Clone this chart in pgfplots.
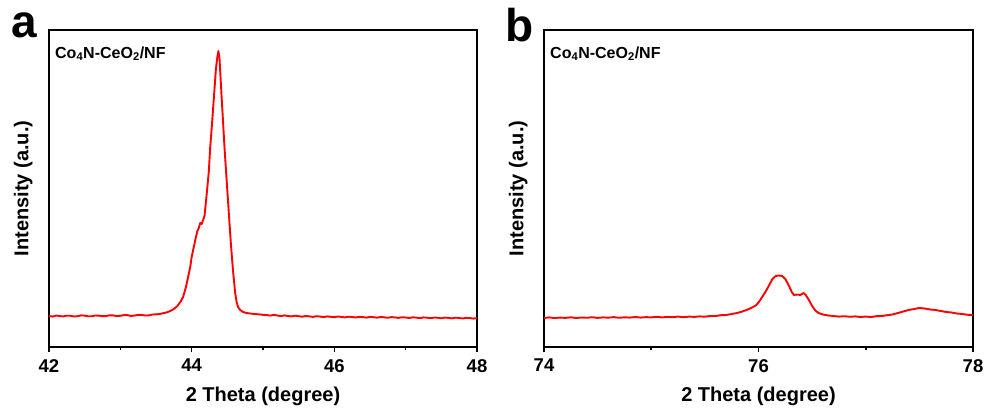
\documentclass[border=0pt]{standalone}
\usepackage{pgfplots}
\pgfplotsset{compat=1.18}
\usepackage{fontspec}
\setmainfont{Liberation Sans}
\begin{document}
\begin{tikzpicture}[x=1pt,y=1pt]
\useasboundingbox (-49,-65) rectangle (936,347);
\pgfplotsset{
  myax/.style={
    scale only axis, width=428pt, height=317pt,
    axis line style={line width=2pt},
    ymin=0, ymax=317, ytick=\empty,
    tick align=outside, tick pos=bottom,
    major tick length=5pt, minor tick length=3.5pt,
    every tick/.style={line width=1.6pt, black},
    minor x tick num=1,
    /pgf/number format/assume math mode=true,
    ticklabel style={font=\fontsize{18.5}{20}\selectfont\bfseries},
    xticklabel style={anchor=north, inner sep=0pt, yshift=-7pt},
    xlabel={2 Theta (degree)}, ylabel={Intensity (a.u.)},
    label style={font=\fontsize{20}{22}\selectfont\bfseries},
    xlabel style={at={(axis description cs:0.5,0)}, anchor=north, inner sep=0pt, yshift=-40pt},
    ylabel style={at={(axis description cs:-0.038,0.5)}, anchor=south, inner sep=0pt, rotate=0},
    clip=true,
  }
}
\begin{axis}[myax, at={(0,0)}, anchor=south west, xmin=42, xmax=48, xtick={42,44,46,48}]
\addplot[color=red, line width=1.9pt, line join=round] coordinates {
(42.00,31.0)(42.05,30.4)(42.10,31.5)(42.15,30.9)(42.20,30.6)(42.25,31.3)(42.30,31.2)(42.35,30.5)(42.40,30.8)(42.45,31.6)
(42.50,31.4)(42.55,30.7)(42.60,30.7)(42.65,31.5)(42.70,31.3)(42.75,30.8)(42.80,31.0)(42.85,31.7)(42.90,31.6)(42.95,30.9)
(43.00,31.2)(43.05,31.9)(43.10,31.8)(43.15,31.1)(43.20,31.4)(43.25,32.2)(43.30,32.0)(43.35,31.5)(43.40,31.6)(43.45,32.5)
(43.50,32.6)(43.55,33.0)(43.60,33.8)(43.65,34.6)(43.70,36.0)(43.75,38.0)(43.80,41.0)(43.85,46.0)(43.88,50.0)(43.92,60.0)
(43.95,70.0)(43.98,80.0)(44.00,90.0)(44.03,100.0)(44.06,110.0)(44.08,116.0)(44.10,119.0)(44.12,124.0)(44.14,123.0)(44.16,127.0)
(44.18,131.0)(44.20,145.0)(44.22,160.0)(44.24,175.0)(44.26,200.0)(44.28,218.0)(44.30,238.0)(44.32,258.0)(44.34,278.0)(44.36,290.0)
(44.375,296.0)(44.39,289.0)(44.40,276.0)(44.42,250.0)(44.44,225.0)(44.46,200.0)(44.49,167.0)(44.52,135.0)(44.55,103.0)(44.58,76.0)
(44.61,54.0)(44.63,45.0)(44.65,40.0)(44.68,37.0)(44.72,35.0)(44.77,34.0)(44.82,33.5)(44.88,33.0)(44.95,32.6)(45.00,32.2)
(45.05,32.0)(45.10,31.4)(45.15,32.1)(45.20,31.5)(45.25,30.9)(45.30,31.6)(45.35,31.0)(45.40,30.6)(45.45,31.3)(45.50,30.8)
(45.55,30.3)(45.60,31.0)(45.65,30.6)(45.70,30.1)(45.75,30.8)(45.80,30.4)(45.85,29.9)(45.90,30.6)(45.95,30.2)(46.00,29.8)
(46.05,30.5)(46.10,30.1)(46.15,29.6)(46.20,30.3)(46.25,30.0)(46.30,29.5)(46.35,30.2)(46.40,29.9)(46.45,29.4)(46.50,30.1)
(46.55,29.8)(46.60,29.3)(46.65,30.0)(46.70,29.7)(46.75,29.2)(46.80,29.9)(46.85,29.6)(46.90,29.1)(46.95,29.8)(47.00,29.5)
(47.05,29.0)(47.10,29.7)(47.15,29.4)(47.20,28.9)(47.25,29.6)(47.30,29.3)(47.35,28.8)(47.40,29.5)(47.45,29.2)(47.50,28.7)
(47.55,29.4)(47.60,29.1)(47.65,28.6)(47.70,29.3)(47.75,29.0)(47.80,28.5)(47.85,29.2)(47.90,28.9)(47.95,28.4)(48.00,29.0)
};
\node[anchor=base west, inner sep=0pt, font=\fontsize{16}{18}\selectfont\bfseries] at (axis cs:42.084,288.7) {Co\textsubscript{4}N-CeO\textsubscript{2}/NF};
\end{axis}
\node[anchor=center, font=\fontsize{46}{50}\selectfont\bfseries] at (-25,322) {a};
\begin{axis}[myax, at={(495pt,0)}, anchor=south west, xmin=74, xmax=78, xtick={74,76,78}, width=429pt]
\addplot[color=red, line width=1.9pt, line join=round] coordinates {
(74.00,29.0)(74.05,29.6)(74.10,28.9)(74.15,29.4)(74.20,29.1)(74.25,29.7)(74.30,29.0)(74.35,29.5)(74.40,29.2)(74.45,29.8)
(74.50,29.1)(74.55,29.6)(74.60,29.3)(74.65,29.9)(74.70,29.2)(74.75,29.7)(74.80,29.4)(74.85,30.0)(74.90,29.4)(74.95,29.9)
(75.00,29.6)(75.05,30.2)(75.10,29.6)(75.15,30.1)(75.20,29.8)(75.25,30.4)(75.30,29.8)(75.35,30.4)(75.40,30.1)(75.45,30.6)
(75.50,30.3)(75.55,31.0)(75.60,31.0)(75.65,31.8)(75.70,32.0)(75.75,33.0)(75.80,34.0)(75.85,35.5)(75.90,37.5)(75.95,40.0)
(75.98,42.0)(76.01,46.0)(76.04,51.0)(76.07,56.0)(76.10,62.0)(76.13,68.0)(76.16,71.0)(76.19,71.5)(76.22,71.0)(76.25,68.0)
(76.28,62.0)(76.31,55.0)(76.33,52.0)(76.36,52.5)(76.39,52.0)(76.42,54.0)(76.44,52.0)(76.47,47.0)(76.50,41.0)(76.53,36.5)
(76.56,34.0)(76.60,32.5)(76.65,31.5)(76.70,31.0)(76.75,30.4)(76.80,30.8)(76.85,30.2)(76.90,30.6)(76.95,30.0)(77.00,30.4)
(77.05,30.0)(77.10,30.8)(77.15,31.0)(77.20,31.8)(77.25,32.5)(77.30,34.0)(77.35,35.5)(77.40,37.0)(77.45,38.0)(77.50,39.0)
(77.55,38.5)(77.60,37.5)(77.65,37.0)(77.70,36.0)(77.75,35.0)(77.80,34.5)(77.85,33.5)(77.90,33.0)(77.95,32.2)(78.00,32.0)
};
\node[anchor=base west, inner sep=0pt, font=\fontsize{16}{18}\selectfont\bfseries] at (axis cs:74.056,288.7) {Co\textsubscript{4}N-CeO\textsubscript{2}/NF};
\end{axis}
\node[anchor=center, font=\fontsize{46}{50}\selectfont\bfseries] at (471,322) {b};
\end{tikzpicture}
\end{document}
